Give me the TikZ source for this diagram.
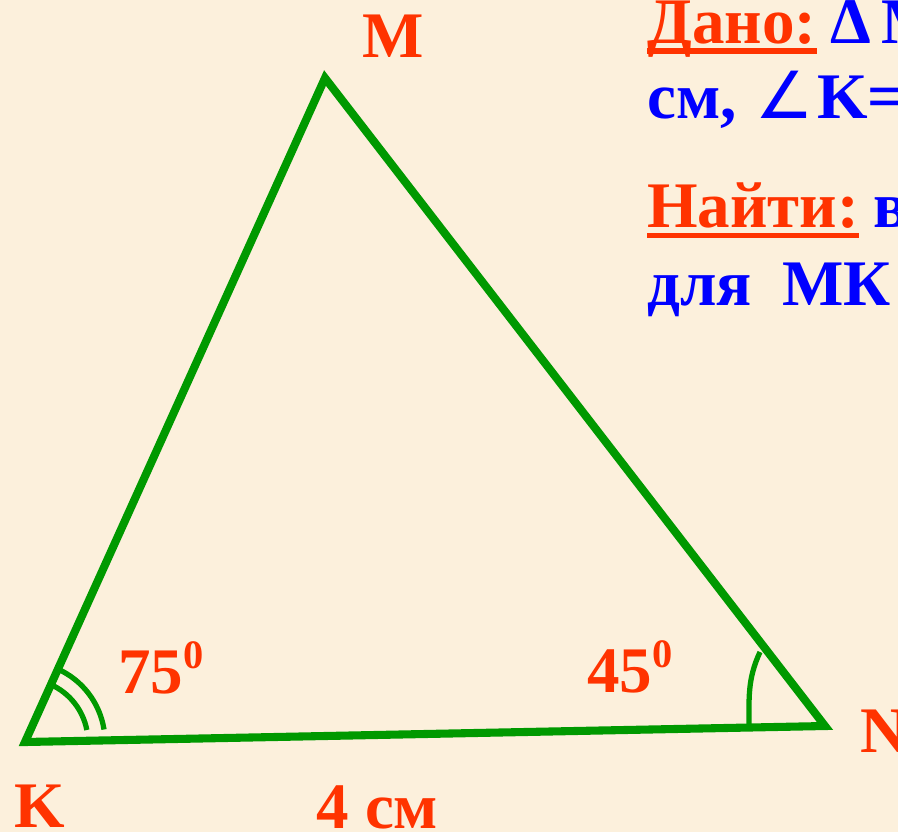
\documentclass[tikz,border=0pt]{standalone}
\usepackage{fontspec}
\setmainfont{Liberation Serif}
\newfontfamily\symfont{DejaVu Sans}
\definecolor{bg}{HTML}{FCF0DC}
\definecolor{lbl}{HTML}{FF3300}
\definecolor{giv}{HTML}{0000FF}
\definecolor{tri}{HTML}{009900}
\begin{document}
\begin{tikzpicture}[x=0.02cm,y=-0.02cm,
  lab/.style={text=lbl, font=\fontsize{37}{37}\selectfont\bfseries, inner sep=0pt, anchor=base west},
  info/.style={text=giv, font=\fontsize{37}{37}\selectfont\bfseries, inner sep=0pt, anchor=base west},
  side/.style={draw=tri, line width=4.6pt, line join=miter},
  anglearc/.style={draw=tri, line width=3pt},
  uline/.style={draw=lbl, line width=3pt}]
\useasboundingbox (0,0) rectangle (898,832);
\fill[bg] (0,0) rectangle (898,832);
\clip (0,0) rectangle (898,832);
% triangle
\coordinate (K) at (25,742);
\coordinate (M) at (325,78);
\coordinate (N) at (825,726);
\draw[side] (K) -- (M) -- (N) -- cycle;
% angle marks at K
\draw[anglearc] ([shift={(-11:63)}]K) arc[start angle=-11, end angle=-65.7, radius=63];
\draw[anglearc] ([shift={(-9:80)}]K) arc[start angle=-9, end angle=-65.7, radius=80];
% angle mark at N
\coordinate (Na) at (749,727);
\coordinate (Nb) at (760,652);
\draw[anglearc] (Na) to[out=90, in=-115] (Nb);
% vertex labels
\node[lab] (lM) at (362,57) {M};
\node[lab] (lK) at (14,827) {K};
\node[lab] (lN) at (860,752) {N};
\node[lab] (lKN) at (316,828) {4 см};
\node[lab] (a75) at (118,693) {75\raisebox{14pt}{\fontsize{23}{23}\selectfont 0}};
\node[lab] (a45) at (587,692) {45\raisebox{14pt}{\fontsize{23}{23}\selectfont 0}};
% given / find
\node[lab] (dano) at (647,43) {Дано:};
\draw[uline] ([yshift=-4.5pt]dano.base west) -- ([yshift=-4.5pt]dano.base east);
\node[info] (tri) at (830,43) {Δ\,M};
\node[info] (line2) at (647,118) {см,};
\node[info, font=\fontsize{37}{37}\selectfont\symfont] (ang) at (755,118) {∠};
\node[info] (kval) at (817,118) {K=};
\node[lab] (najti) at (647,227) {Найти:};
\draw[uline] ([yshift=-5pt]najti.base west) -- ([yshift=-5pt]najti.base east);
\node[info] (find) at (873,227) {в};
\node[info] (line4) at (647,305) {для};
\node[info] (mk) at (782,305) {МК};
\end{tikzpicture}
\end{document}
